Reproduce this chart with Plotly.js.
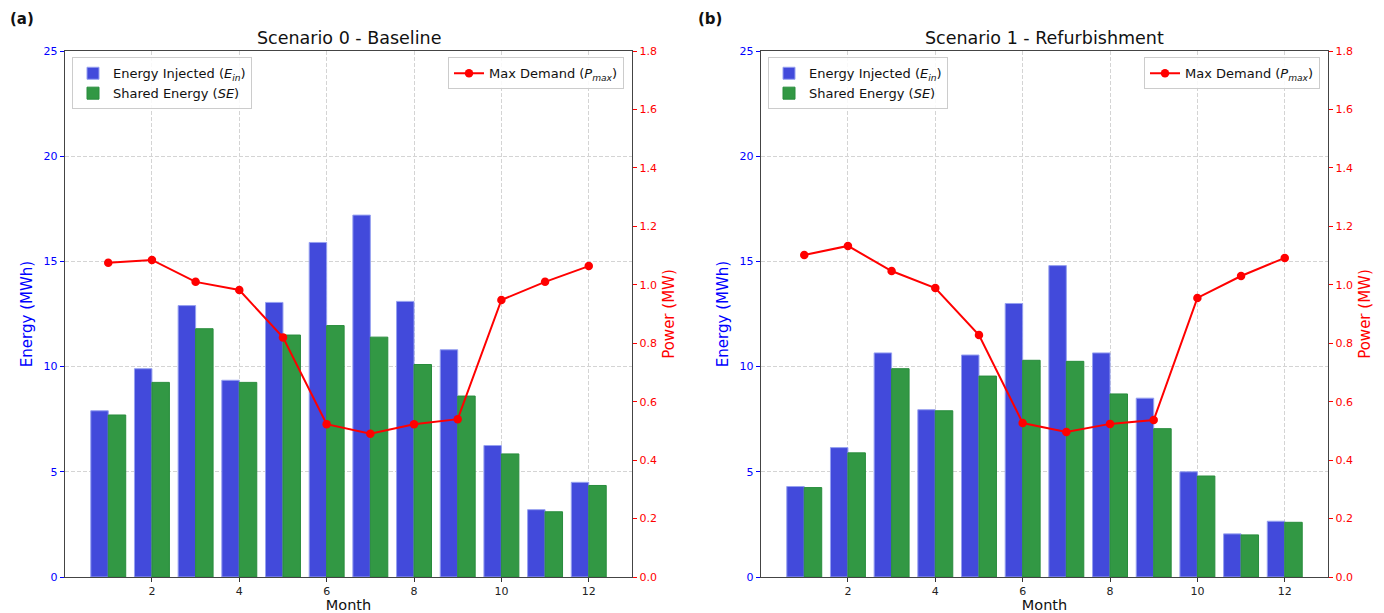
<!DOCTYPE html>
<html>
<head>
<meta charset="utf-8">
<script src="https://cdn.plot.ly/plotly-3.0.1.min.js"></script>
<style>html,body{margin:0;padding:0;background:#fff;}#chart{width:1384px;height:613px;}</style>
</head>
<body>
<div id="chart"></div>
<script>
const months = [1,2,3,4,5,6,7,8,9,10,11,12];
const ein0 = [7.9, 9.9, 12.9, 9.35, 13.05, 15.9, 17.2, 13.1, 10.8, 6.25, 3.2, 4.5];
const se0  = [7.7, 9.25, 11.8, 9.25, 11.5, 11.95, 11.4, 10.1, 8.6, 5.85, 3.1, 4.35];
const pmax0 = [1.075, 1.085, 1.01, 0.982, 0.82, 0.523, 0.49, 0.523, 0.54, 0.948, 1.01, 1.064];
const ein1 = [4.3, 6.15, 10.65, 7.95, 10.55, 13.0, 14.8, 10.65, 8.5, 5.0, 2.05, 2.65];
const se1  = [4.25, 5.9, 9.9, 7.9, 9.55, 10.3, 10.25, 8.7, 7.05, 4.8, 2.0, 2.6];
const pmax1 = [1.102, 1.133, 1.047, 0.989, 0.828, 0.527, 0.496, 0.524, 0.537, 0.955, 1.03, 1.092];
const titles = ["Scenario 0 - Baseline", "Scenario 1 - Refurbishment"];
const panelLabels = ["(a)", "(b)"];
const nameEin = "Energy Injected (<i>E</i><sub><i>in</i></sub>)";
const nameSE = "Shared Energy (<i>SE</i>)";
const namePmax = "Max Demand (<i>P</i><sub><i>max</i></sub>)";

const W = 1384;
const BLUE = "rgb(66,74,219)";
const GREEN = "rgb(50,152,68)";
const FONT = "DejaVu Sans, sans-serif";

function barTrace(x, y, name, color, edge, xa, ya, legend, offset) {
  return {type:"bar", x:x, y:y, name:name, xaxis:xa, yaxis:ya, legend:legend,
    width:0.4, offset:offset,
    marker:{color:color, line:{color:edge, width:1}}};
}
function lineTrace(x, y, name, xa, ya, legend) {
  return {type:"scatter", mode:"lines+markers", x:x, y:y, name:name, xaxis:xa, yaxis:ya, legend:legend,
    line:{color:"red", width:2}, marker:{color:"red", size:8.5}};
}

const data = [
  barTrace(months, ein0, nameEin, BLUE, "rgb(150,160,240)", "x", "y", "legend", -0.4),
  barTrace(months, se0, nameSE, GREEN, "rgb(40,140,60)", "x", "y", "legend", 0),
  lineTrace(months, pmax0, namePmax, "x", "y2", "legend2"),
  barTrace(months, ein1, nameEin, BLUE, "rgb(150,160,240)", "x2", "y3", "legend3", -0.4),
  barTrace(months, se1, nameSE, GREEN, "rgb(40,140,60)", "x2", "y3", "legend3", 0),
  lineTrace(months, pmax1, namePmax, "x2", "y4", "legend4"),
];

const d1 = [65/W, 632/W], d2 = [761/W, 1328/W];
const gridCol = "rgb(212,212,212)";
const gdash = "4px,2px";
function xax(domain, anchor) {
  return {domain:domain, anchor:anchor, range:[0.01,12.99], tickvals:[2,4,6,8,10,12],
    ticks:"outside", ticklen:4, tickcolor:"#333", showline:true, linecolor:"#444", linewidth:1.2, mirror:true,
    showgrid:true, gridcolor:gridCol, griddash:gdash, gridwidth:1, zeroline:false,
    tickfont:{family:FONT, size:11, color:"#222"},
    title:{text:"Month", font:{family:FONT, size:14.5, color:"#111"}, standoff:8}};
}
function yleft(anchor) {
  return {domain:[0,1], anchor:anchor, range:[0,25], tickvals:[0,5,10,15,20,25],
    ticks:"outside", ticklen:4, tickcolor:"blue", showline:true, linecolor:"#444", linewidth:1.2,
    showgrid:true, gridcolor:gridCol, griddash:gdash, gridwidth:1, zeroline:false,
    tickfont:{family:FONT, size:11, color:"blue"},
    title:{text:"Energy (MWh)", font:{family:FONT, size:15, color:"blue"}, standoff:7}};
}
function yright(anchor, over) {
  return {overlaying:over, anchor:anchor, side:"right", range:[0,1.8], tickvals:[0,0.2,0.4,0.6,0.8,1.0,1.2,1.4,1.6,1.8],
    ticktext:["0.0","0.2","0.4","0.6","0.8","1.0","1.2","1.4","1.6","1.8"],
    ticks:"outside", ticklen:4, tickcolor:"red", showline:true, linecolor:"#444", linewidth:1.2,
    showgrid:false, zeroline:false,
    tickfont:{family:FONT, size:11, color:"red"},
    title:{text:"Power (MW)", font:{family:FONT, size:15, color:"red"}, standoff:7}};
}
function leg(x, xanchor) {
  return {x:x, xanchor:xanchor, y:0.988, yanchor:"top", bgcolor:"rgba(255,255,255,0.85)",
    bordercolor:"#ccc", borderwidth:1, font:{family:FONT, size:13, color:"#111"},
    tracegroupgap:2, itemwidth:30};
}

const layout = {
  width:1384, height:613, paper_bgcolor:"#fff", plot_bgcolor:"#fff",
  margin:{l:0, r:0, t:51, b:36},
  showlegend:true,
  xaxis:xax(d1, "y"), yaxis:yleft("x"), yaxis2:yright("x","y"),
  xaxis2:xax(d2, "y3"), yaxis3:yleft("x2"), yaxis4:yright("x2","y3"),
  legend:leg(72/W, "left"), legend2:leg(624/W, "right"),
  legend3:leg(768/W, "left"), legend4:leg(1320/W, "right"),
  annotations:[
    {text:titles[0], xref:"paper", yref:"paper", x:(d1[0]+d1[1])/2, y:1, yshift:1, xanchor:"center", yanchor:"bottom", showarrow:false,
     font:{family:FONT, size:17.5, color:"#111"}},
    {text:titles[1], xref:"paper", yref:"paper", x:(d2[0]+d2[1])/2, y:1, yshift:1, xanchor:"center", yanchor:"bottom", showarrow:false,
     font:{family:FONT, size:17.5, color:"#111"}},
    {text:"<b>"+panelLabels[0]+"</b>", xref:"paper", yref:"paper", x:8/W, y:1, yshift:21, xanchor:"left", yanchor:"bottom", showarrow:false,
     font:{family:FONT, size:15, color:"#111"}},
    {text:"<b>"+panelLabels[1]+"</b>", xref:"paper", yref:"paper", x:696/W, y:1, yshift:21, xanchor:"left", yanchor:"bottom", showarrow:false,
     font:{family:FONT, size:15, color:"#111"}},
  ],
};
Plotly.newPlot("chart", data, layout, {displayModeBar:false, staticPlot:true});
</script>
</body>
</html>
